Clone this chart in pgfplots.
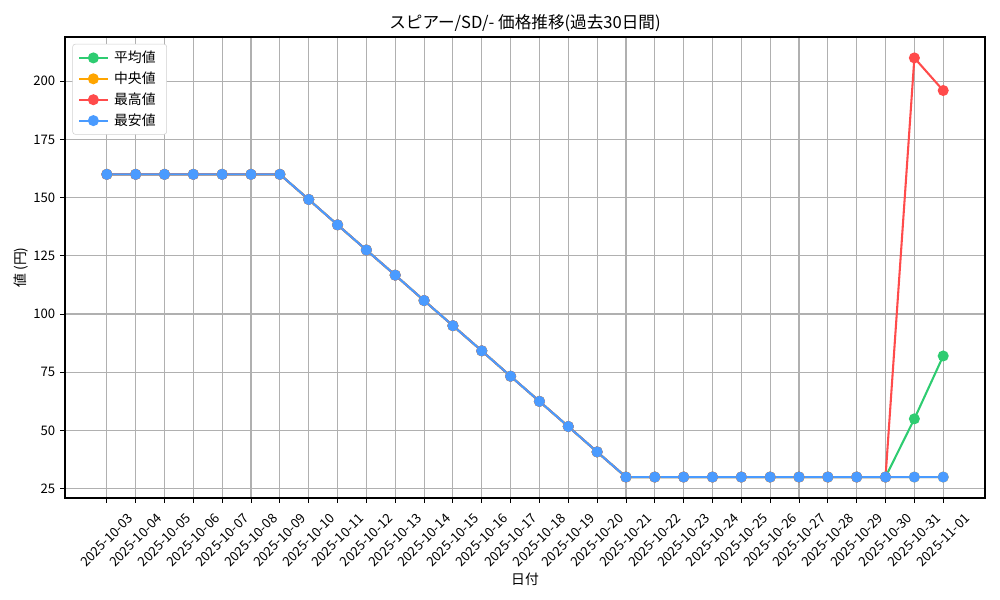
\documentclass[border=0pt]{standalone}
\usepackage{fontspec}
\setmainfont{Noto Sans CJK JP}
\usepackage{pgfplots}
\usepackage{pgfplotstable}
\pgfplotsset{compat=1.18}

\definecolor{c-avg}{HTML}{2ECC71}
\definecolor{c-med}{HTML}{FFA500}
\definecolor{c-max}{HTML}{FF4B4B}
\definecolor{c-min}{HTML}{4A9BFF}
\definecolor{c-grid}{HTML}{B0B0B0}

% idx avg med max min
\pgfplotstableread{
x avg med max min
0 160 160 160 160
1 160 160 160 160
2 160 160 160 160
3 160 160 160 160
4 160 160 160 160
5 160 160 160 160
6 160 160 160 160
7 149.2 149.2 149.2 149.2
8 138.3 138.3 138.3 138.3
9 127.5 127.5 127.5 127.5
10 116.7 116.7 116.7 116.7
11 105.8 105.8 105.8 105.8
12 95.0 95.0 95.0 95.0
13 84.2 84.2 84.2 84.2
14 73.3 73.3 73.3 73.3
15 62.5 62.5 62.5 62.5
16 51.7 51.7 51.7 51.7
17 40.8 40.8 40.8 40.8
18 30 30 30 30
19 30 30 30 30
20 30 30 30 30
21 30 30 30 30
22 30 30 30 30
23 30 30 30 30
24 30 30 30 30
25 30 30 30 30
26 30 30 30 30
27 30 30 30 30
28 55 30 210 30
29 82 30 196 30
}\prices

\begin{document}
\begin{tikzpicture}[x=0.7227pt,y=0.7227pt]
\begin{axis}[
  at={(0,0)}, anchor=south west,
  scale only axis,
  width=664.9pt, height=333.2pt,
  xmin=-1.45, xmax=30.45,
  ymin=21, ymax=219,
  xtick={0,...,29},
  xticklabels={2025-10-03,2025-10-04,2025-10-05,2025-10-06,2025-10-07,2025-10-08,2025-10-09,2025-10-10,2025-10-11,2025-10-12,2025-10-13,2025-10-14,2025-10-15,2025-10-16,2025-10-17,2025-10-18,2025-10-19,2025-10-20,2025-10-21,2025-10-22,2025-10-23,2025-10-24,2025-10-25,2025-10-26,2025-10-27,2025-10-28,2025-10-29,2025-10-30,2025-10-31,2025-11-01},
  ytick={25,50,...,200},
  xtick pos=lower, ytick pos=left,
  /pgf/number format/assume math mode=true,
  tick align=outside,
  major tick length=3.5pt,
  tick style={black, line width=0.6pt},
  axis line style={line width=0.8pt},
  grid=major,
  major grid style={c-grid, line width=0.8pt},
  ticklabel style={font=\fontsize{9.5}{11}\selectfont},
  xticklabel style={anchor=center, yshift=-27pt, rotate=45},
  title={スピアー/SD/- 価格推移(過去30日間)},
  title style={font=\fontsize{12}{14}\selectfont, yshift=-6pt},
  xlabel={日付},
  ylabel={値 (円)},
  label style={font=\fontsize{10}{12}\selectfont},
  xlabel style={yshift=4pt},
  ylabel style={yshift=-3pt},
  legend style={at={(axis description cs:0.008,0.985)}, anchor=north west,
    draw=black!18, rounded corners=2pt, font=\fontsize{10}{12}\selectfont,
    row sep=1.2pt, inner xsep=4pt, inner ysep=3pt,
    nodes={inner xsep=4pt}},
  legend image code/.code={
    \draw[mark repeat=2, mark phase=2, #1]
      plot coordinates {(0cm,0cm) (0.36cm,0cm) (0.72cm,0cm)};},
  legend cell align=left,
  every axis plot/.append style={line width=1.5pt, mark=*, mark size=3.2pt},
]
\addplot[c-avg, mark options={fill=c-avg}] table[x=x, y=avg] {\prices};
\addplot[c-med, mark options={fill=c-med}] table[x=x, y=med] {\prices};
\addplot[c-max, mark options={fill=c-max}] table[x=x, y=max] {\prices};
\addplot[c-min, mark options={fill=c-min}] table[x=x, y=min] {\prices};
\legend{平均値, 中央値, 最高値, 最安値}
\end{axis}
\path[use as bounding box] (-65,-102) rectangle (935,498);
\end{tikzpicture}
\end{document}
